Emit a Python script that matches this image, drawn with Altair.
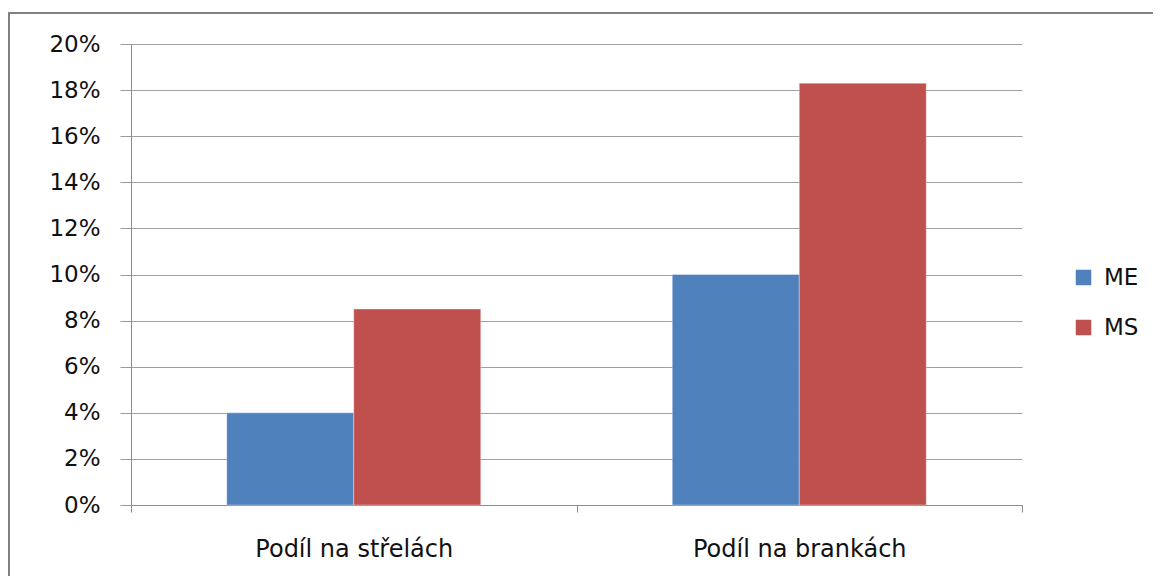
import altair as alt
import pandas as pd

categories = ["Podíl na střelách", "Podíl na brankách"]
series = ["ME", "MS"]
me_values = [0.04, 0.10]
ms_values = [0.085, 0.183]
y_ticks = [0, 0.02, 0.04, 0.06, 0.08, 0.10, 0.12, 0.14, 0.16, 0.18, 0.20]
colors = ["#4F81BD", "#C0504D"]

rows = []
for c, a, b in zip(categories, me_values, ms_values):
    rows.append({"kat": c, "serie": "ME", "hodnota": a})
    rows.append({"kat": c, "serie": "MS", "hodnota": b})
df = pd.DataFrame(rows)

FONT = "DejaVu Sans"
W, H = 891, 461

bars = alt.Chart(df).mark_bar(stroke="#ffffff", strokeOpacity=0.35, strokeWidth=1).encode(
    x=alt.X("kat:N", sort=categories, title=None,
            scale=alt.Scale(paddingInner=0, paddingOuter=0),
            axis=alt.Axis(labelAngle=0, tickBand="extent", tickSize=7, tickColor="#8c8c8c",
                          domainColor="#8c8c8c", labelPadding=25, labelFont=FONT,
                          labelFontSize=24, labelColor="#111111", labelLimit=0, grid=False)),
    xOffset=alt.XOffset("serie:N", sort=series,
                        scale=alt.Scale(paddingInner=0, paddingOuter=0.754)),
    y=alt.Y("hodnota:Q", title=None,
            scale=alt.Scale(domain=[0, 0.2], nice=False),
            axis=alt.Axis(values=y_ticks, format=".0%", tickSize=11, tickColor="#9a9a9a",
                          domainColor="#8c8c8c", gridColor="#a0a0a0", labelPadding=20,
                          labelFont=FONT, labelFontSize=23, labelColor="#111111")),
    color=alt.Color("serie:N", sort=series, title=None,
                    scale=alt.Scale(domain=series, range=colors),
                    legend=alt.Legend(orient="none", legendX=941, legendY=222, padding=0,
                                      symbolType="square", symbolSize=240, symbolStrokeWidth=0,
                                      labelFont=FONT, labelFontSize=23, labelColor="#111111",
                                      labelOffset=9, rowPadding=26)),
)

frame = alt.Chart(pd.DataFrame({"f": [0]})).mark_rect(
    fill=None, stroke="#808080", strokeWidth=2, clip=False
).encode(
    x=alt.value(-122), x2=alt.value(W + 160),
    y=alt.value(-31), y2=alt.value(H + 120),
)

chart = alt.layer(frame, bars).properties(
    width=W, height=H,
    padding={"left": 123, "top": 36, "right": 131, "bottom": 71},
    autosize=alt.AutoSizeParams(type="none"),
).configure_view(stroke=None)

chart.save("out.html", embed_options={"renderer": "svg", "actions": False})
